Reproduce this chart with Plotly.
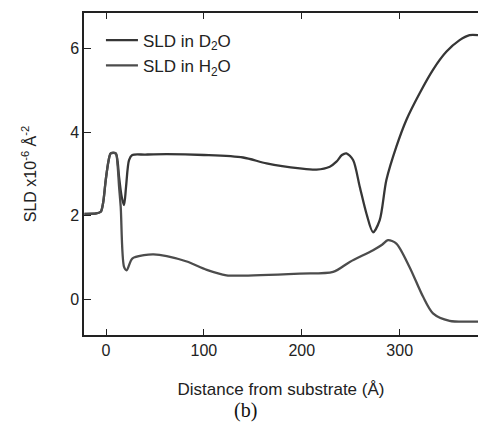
import plotly.graph_objects as go

# SLD profile in D2O
x_d2o = [-22, -10, -5.4, -3, -0.3, 2.5, 4.8, 9.9, 11.8, 13.3, 16, 18.4, 20.5, 23.5, 26.8, 40, 62, 100,
         140, 164, 198, 215, 228.6, 235.4, 241, 245.6, 252.4, 259.2, 266, 272.8, 279.6, 286.4, 296.6,
         306.8, 320.4, 334, 347.6, 361.2, 371.4, 380]
y_d2o = [2.04, 2.05, 2.09, 2.3, 2.85, 3.3, 3.49, 3.49, 3.3, 2.93, 2.45, 2.25, 2.7, 3.33, 3.45, 3.46, 3.47,
         3.45, 3.39, 3.25, 3.13, 3.1, 3.17, 3.29, 3.45, 3.49, 3.33, 2.69, 2.05, 1.6, 1.89, 2.85, 3.65,
         4.29, 4.93, 5.49, 5.92, 6.2, 6.32, 6.32]

# SLD profile in H2O
x_h2o = [-22, -10, -5.4, -3, -0.3, 2.5, 4.8, 9.9, 11.8, 13.3, 15, 18.4, 21.1, 26.8, 38.8, 48.5, 62, 82.5,
         103, 123, 137, 198, 232, 249, 272.8, 282, 288, 296.6, 310, 323.8, 334, 351, 370, 380]
y_h2o = [2.04, 2.05, 2.09, 2.3, 2.85, 3.3, 3.49, 3.49, 3.2, 2.7, 2.21, 0.77, 0.69, 0.97, 1.05, 1.07, 1.03,
         0.9, 0.7, 0.57, 0.56, 0.61, 0.65, 0.89, 1.17, 1.3, 1.41, 1.33, 0.77, 0.06, -0.34, -0.52, -0.54, -0.54]

FONT = "Liberation Sans, Arial, sans-serif"

fig = go.Figure()
fig.add_trace(go.Scatter(x=x_d2o, y=y_d2o, mode="lines", name="SLD in D<sub>2</sub>O",
                         line=dict(color="#363636", width=2.3, shape="spline", smoothing=0.8)))
fig.add_trace(go.Scatter(x=x_h2o, y=y_h2o, mode="lines", name="SLD in H<sub>2</sub>O",
                         line=dict(color="#4c4c4c", width=2.3, shape="spline", smoothing=0.8)))

fig.update_layout(
    width=478, height=425,
    margin=dict(l=84, r=0, t=13, b=90),
    paper_bgcolor="white", plot_bgcolor="white",
    font=dict(family=FONT, size=16, color="#222"),
    showlegend=True,
    legend=dict(x=0.043, y=0.97, xanchor="left", yanchor="top", bgcolor="rgba(0,0,0,0)",
                font=dict(family=FONT, size=17, color="#222"),
                tracegroupgap=0, itemwidth=32),
    xaxis=dict(range=[-22.5, 380], tickvals=[0, 100, 200, 300], ticks="inside", ticklen=6,
               showline=True, linecolor="#222", linewidth=1.5, mirror="ticks", showgrid=False,
               zeroline=False, tickcolor="#222", tickfont=dict(size=16),
               title=dict(text="Distance from substrate (Å)", standoff=25,
                          font=dict(family=FONT, size=17))),
    yaxis=dict(range=[-0.86, 6.85], tickvals=[0, 2, 4, 6], ticks="inside", ticklen=7,
               showline=True, linecolor="#222", linewidth=1.5, showgrid=False, zeroline=False,
               tickcolor="#222", tickfont=dict(size=16),
               title=dict(text="SLD x10<sup>-6</sup> Å<sup>-2</sup>", standoff=30,
                          font=dict(family=FONT, size=16))),
)
fig.add_annotation(text="(b)", xref="paper", yref="paper", x=0.409, y=-0.236, yanchor="middle",
                   xanchor="center", showarrow=False,
                   font=dict(family="Liberation Serif, Times New Roman, serif", size=20, color="#111"))
fig.write_html("out.html")
